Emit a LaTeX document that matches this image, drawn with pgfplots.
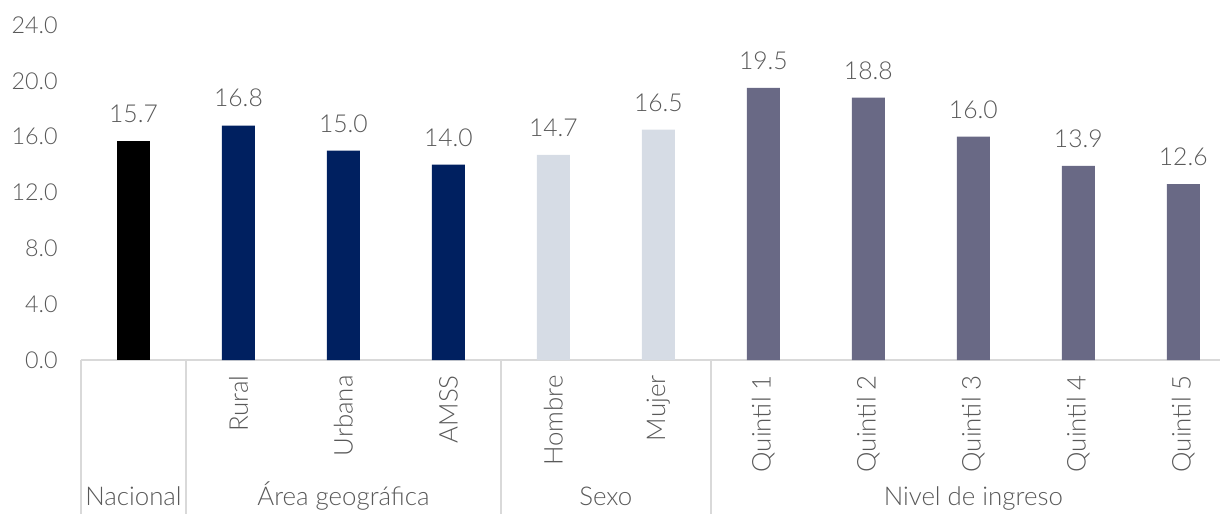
\documentclass[border=0pt]{standalone}
\usepackage{pgfplots}
\pgfplotsset{compat=1.18}
\usepackage{fontspec}
\setmainfont{Lato Light}
\definecolor{txt}{HTML}{595959}
\definecolor{gridc}{HTML}{D9D9D9}
\definecolor{cnac}{HTML}{000000}
\definecolor{carea}{HTML}{002060}
\definecolor{csexo}{HTML}{D6DCE5}
\definecolor{cquin}{HTML}{696985}
\newcommand{\fnt}{\fontsize{14}{16}\selectfont}
\newcommand{\fntv}{\fontsize{14.8}{17}\selectfont}
\newcommand{\fntl}{\fontsize{15.5}{18}\selectfont}
\begin{document}
\begin{tikzpicture}[x=1pt,y=1pt]
\begin{axis}[
  at={(0,0)}, anchor=south west,
  scale only axis,
  width=683.4pt, height=201pt,
  xmin=-0.5, xmax=10.35,
  ymin=0, ymax=24,
  ytick={0,4,...,24},
  xtick={1,...,10},
  xticklabels={Rural,Urbana,AMSS,Hombre,Mujer,Quintil 1,Quintil 2,Quintil 3,Quintil 4,Quintil 5},
  xticklabel style={rotate=90, anchor=east, inner sep=0pt, font=\fntl, text=txt},
  xticklabel shift=9pt,
  yticklabel style={anchor=east, inner sep=0pt, xshift=-13.8pt, font=\fnt, text=txt,
    /pgf/number format/.cd, fixed, fixed zerofill, precision=1},
  /pgf/number format/assume math mode=true,
  major tick length=0pt,
  axis y line*=left,
  y axis line style={draw=none},
  axis x line*=bottom,
  x axis line style={draw=gridc, line width=0.9pt, -},
  ybar, bar width=19.8pt, bar shift=0pt,
  nodes near coords,
  nodes near coords style={anchor=south, inner sep=0pt, yshift=10.8pt, font=\fntv, text=txt,
    /pgf/number format/.cd, fixed, fixed zerofill, precision=1, assume math mode=true},
  clip=false,
]
\addplot[fill=cnac, draw=none] coordinates {(0,15.7)};
\addplot[fill=carea, draw=none] coordinates {(1,16.8) (2,15.0) (3,14.0)};
\addplot[fill=csexo, draw=none] coordinates {(4,14.7) (5,16.5)};
\addplot[fill=cquin, draw=none] coordinates {(6,19.5) (7,18.8) (8,16.0) (9,13.9) (10,12.6)};
\foreach \s in {-0.5,0.5,3.5,5.5} {
  \edef\tmp{\noexpand\draw[gridc, line width=0.9pt] (axis cs:\s,0) -- ([yshift=-92.4pt]axis cs:\s,0);}
  \tmp
}
\node[text=txt, font=\fntl, anchor=base] at ([yshift=-87pt]axis cs:0,0) {Nacional};
\node[text=txt, font=\fntl, anchor=base] at ([yshift=-87pt]axis cs:2,0) {Área geográfica};
\node[text=txt, font=\fntl, anchor=base] at ([yshift=-87pt]axis cs:4.5,0) {Sexo};
\node[text=txt, font=\fntl, anchor=base] at ([yshift=-87pt]axis cs:8,0) {Nivel de ingreso};
\end{axis}
\pgfresetboundingbox
\path[use as bounding box] (-48.6pt,-92.4pt) rectangle (683.4pt,216pt);
\end{tikzpicture}
\end{document}
